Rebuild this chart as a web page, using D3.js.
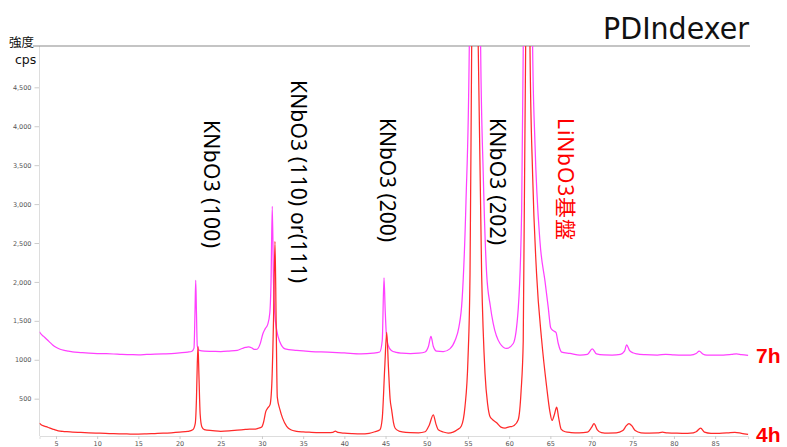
<!DOCTYPE html>
<html><head><meta charset="utf-8">
<script src="https://cdn.jsdelivr.net/npm/d3@7"></script>
<style>
html,body{margin:0;padding:0;background:#fff;}
svg{display:block;}
</style></head>
<body>
<svg id="chart" width="787" height="447"></svg>
<script>
// ---- data ----
const angles7h = [3.0,3.2,3.5,3.8,4.2,4.6,5.0,5.5,6.0,6.5,7.0,8.0,9.0,10.0,11.0,12.0,13.0,14.0,15.0,16.0,17.0,18.0,19.0,20.0,21.0,21.5,21.75,21.87,21.96,22.05,22.15,22.4,23.0,24.0,25.0,26.0,27.0,27.6,28.0,28.35,28.8,29.1,29.4,29.8,30.1,30.4,30.7,30.95,31.1,31.25,31.4,31.55,31.8,32.19,32.8,34.2,36.0,38.0,40.0,42.0,43.5,44.3,44.6,44.81,44.95,45.1,45.3,45.7,46.3,47.0,48.0,49.0,49.8,50.2,50.51,50.8,51.2,52.0,52.8,53.43,53.9,54.28,54.76,55.16,55.5,55.85,56.2,56.54,56.86,57.27,57.7,58.07,58.89,59.7,60.5,61.11,61.52,61.71,62.0,62.28,62.55,62.85,63.13,63.74,64.35,64.75,65.04,65.35,65.68,65.96,66.37,67.38,68.6,69.5,70.09,70.6,71.5,72.5,73.5,74.0,74.26,74.6,75.0,75.5,76.5,78.0,79.0,80.0,81.0,82.0,82.7,83.07,83.5,84.0,85.0,86.0,87.0,87.6,88.2,89.0];
const cps7h = [1360,1330,1300,1270,1230,1190,1160,1135,1120,1110,1100,1092,1085,1080,1078,1074,1068,1066,1064,1068,1072,1076,1080,1088,1098,1110,1150,1600,2020,1600,1180,1120,1110,1108,1106,1112,1122,1145,1158,1165,1150,1132,1135,1210,1330,1400,1455,1600,2000,2970,2000,1600,1374,1225,1141,1120,1105,1098,1088,1077,1085,1100,1250,2052,1650,1320,1190,1120,1095,1085,1080,1085,1100,1170,1300,1170,1110,1105,1140,1247,1420,1756,3028,5000,10000,14000,10000,5000,3371,2100,1700,1463,1209,1145,1209,1667,2939,5000,12000,22000,12000,5000,3791,2519,2010,1667,1412,1374,1352,1209,1098,1081,1060,1070,1141,1075,1062,1060,1070,1110,1192,1120,1090,1075,1065,1060,1070,1062,1058,1060,1080,1111,1075,1060,1058,1060,1070,1077,1065,1056];

const angles4h = [3.0,3.2,3.5,3.8,4.2,4.6,5.0,5.5,6.0,7.0,8.0,9.0,10.0,11.0,12.0,13.0,14.0,15.0,16.0,17.0,18.0,19.0,20.0,21.0,21.6,21.9,22.05,22.15,22.24,22.35,22.5,22.7,23.0,24.0,25.0,26.0,27.0,28.0,28.5,29.0,29.5,29.97,30.2,30.45,30.7,30.97,31.2,31.4,31.58,31.72,31.86,32.19,32.5,33.0,33.5,34.2,35.0,36.0,37.0,38.0,38.6,38.9,39.2,40.0,41.0,42.0,43.0,43.7,44.32,44.6,44.9,45.14,45.35,45.55,45.74,45.95,46.15,46.6,47.0,48.0,49.0,49.8,50.3,50.79,51.1,51.4,52.0,52.6,53.2,53.7,54.2,54.64,55.0,55.25,55.45,55.85,56.25,56.66,57.07,57.4,57.67,58.0,58.49,59.0,59.5,60.0,60.3,60.6,61.1,61.45,61.71,62.0,62.28,62.53,62.85,63.33,63.95,64.55,64.95,65.2,65.5,65.77,66.0,66.3,66.8,67.5,68.5,69.5,70.0,70.3,70.7,71.2,72.0,73.0,73.8,74.2,74.54,74.9,75.3,76.0,77.0,78.0,78.6,79.2,80.0,81.0,82.0,82.7,83.24,83.7,84.5,85.5,86.5,87.4,88.2,89.0];
const cps4h = [187,165,150,140,125,110,95,82,78,70,66,62,58,55,50,48,46,45,48,52,56,62,70,80,100,180,500,950,1170,800,300,140,102,90,80,85,95,105,110,108,118,135,200,330,380,420,700,1500,2520,1500,520,356,250,144,100,80,72,68,65,64,68,82,66,56,50,47,55,75,102,250,900,1352,900,500,356,200,123,85,75,64,62,75,160,293,180,100,72,58,70,100,150,398,1000,2100,5000,9000,5000,2100,827,420,271,230,190,135,122,138,142,155,229,600,1247,5000,20000,5000,3371,2100,1247,653,330,220,300,390,260,110,75,65,60,70,130,178,100,65,58,60,90,150,180,150,90,62,58,60,70,60,58,55,56,75,123,70,55,55,60,68,55,40];

const xTicks = [5,10,15,20,25,30,35,40,45,50,55,60,65,70,75,80,85];
const yTicks = [500,1000,1500,2000,2500,3000,3500,4000,4500];
const yTickLabels = ["500","1000","1,500","2,000","2,500","3,000","3,500","4,000","4,500"];

const seriesNames = ["7h","4h"];
const seriesColors = ["#ff40ff","#ff2a2a"];

const peakLabels = ["KNbO3 (100)","KNbO3 (110) or(111)","KNbO3 (200)","KNbO3 (202)","LiNbO3基盤"];
const peakLabelColors = ["#000","#000","#000","#000","#ff0000"];

// ---- drawing ----
const svg = d3.select("#chart");
const plotTop = 46, plotBottom = 436, plotLeft = 39.5, plotRight = 748.5;

const x = d3.scaleLinear().domain([3, 89]).range([39.5, 748.1]);
const y = d3.scaleLinear().domain([0, 5000]).range([437.6, 48.4]);

svg.append("defs").append("clipPath").attr("id","clip")
  .append("rect").attr("x", plotLeft).attr("y", plotTop)
  .attr("width", plotRight - plotLeft + 2).attr("height", plotBottom - plotTop);

// axes
const yAxis = d3.axisLeft(y).tickValues(yTicks)
  .tickFormat((d,i)=>yTickLabels[i]).tickSize(5).tickPadding(3);
const gy = svg.append("g").attr("transform", `translate(${plotLeft},0)`).call(yAxis);
gy.select(".domain").remove();
gy.selectAll(".tick line").attr("stroke","#ccc");
gy.selectAll(".tick text").attr("fill","#555").style("font-family","DejaVu Sans, sans-serif").style("font-size","6.5px");

svg.append("line").attr("x1",plotLeft).attr("x2",plotLeft).attr("y1",plotTop).attr("y2",plotBottom)
  .attr("stroke","#ddd").attr("stroke-width",1);

const xAxis = d3.axisBottom(x).tickValues(xTicks).tickSize(3).tickPadding(2);
const gx = svg.append("g").attr("transform", `translate(0,${plotBottom})`).call(xAxis);
gx.select(".domain").attr("stroke","#ddd");
gx.selectAll(".tick line").attr("stroke","#ccc");
gx.selectAll(".tick text").attr("fill","#555").style("font-family","DejaVu Sans, sans-serif").style("font-size","6.5px");

// top line
svg.append("line").attr("x1",33).attr("x2",750).attr("y1",plotTop).attr("y2",plotTop)
  .attr("stroke","#8a8a8a").attr("stroke-width",1.2);

// series
const line = d3.line().x(d=>x(d[0])).y(d=>y(d[1])).curve(d3.curveMonotoneX);
const seriesData = [
  d3.zip(angles7h, cps7h),
  d3.zip(angles4h, cps4h)
];
const gLines = svg.append("g").attr("clip-path","url(#clip)");
seriesData.forEach((data,i)=>{
  gLines.append("path").datum(data).attr("d", line)
    .attr("fill","none").attr("stroke", seriesColors[i]).attr("stroke-width",1.25)
    .attr("stroke-linejoin","round");
});

// series labels at right end
seriesData.forEach((data,i)=>{
  const last = data[data.length-1];
  svg.append("text").attr("x", 756).attr("y", y(last[1]) + 8)
    .text(seriesNames[i]).attr("fill","#ff0000")
    .style("font-family","Liberation Sans, Arial, sans-serif").style("font-weight","bold").style("font-size","21px");
});

// peak labels (rotated)
const labelTops = [120, 80, 118, 118, 118];
const labelLens = [128, 203, 124, 127, 122];
const labelX = [212, 298.5, 388, 497.5, 566];
peakLabels.forEach((t,i)=>{
  svg.append("text")
    .attr("transform", `translate(${labelX[i]},${labelTops[i]}) rotate(90)`)
    .attr("dominant-baseline","central")
    .attr("textLength", labelLens[i]).attr("lengthAdjust","spacing")
    .attr("fill", peakLabelColors[i])
    .style("font-family","Noto Sans, Noto Sans CJK JP, sans-serif").style("font-size","21px")
    .text(t);
});

// title
svg.append("text").attr("x", 749).attr("y", 38.5).attr("text-anchor","end")
  .attr("textLength",146).attr("lengthAdjust","spacingAndGlyphs")
  .style("font-family","DejaVu Sans, sans-serif").style("font-size","30px").attr("fill","#111")
  .text("PDIndexer");

// y axis title
svg.append("text").attr("x", 9).attr("y", 47).text("強度")
  .style("font-family","Noto Sans CJK JP, sans-serif").style("font-size","12.5px").attr("fill","#111");
svg.append("text").attr("x", 15).attr("y", 64).text("cps")
  .style("font-family","DejaVu Sans, sans-serif").style("font-size","12.5px").attr("fill","#111");
</script>
</body></html>
